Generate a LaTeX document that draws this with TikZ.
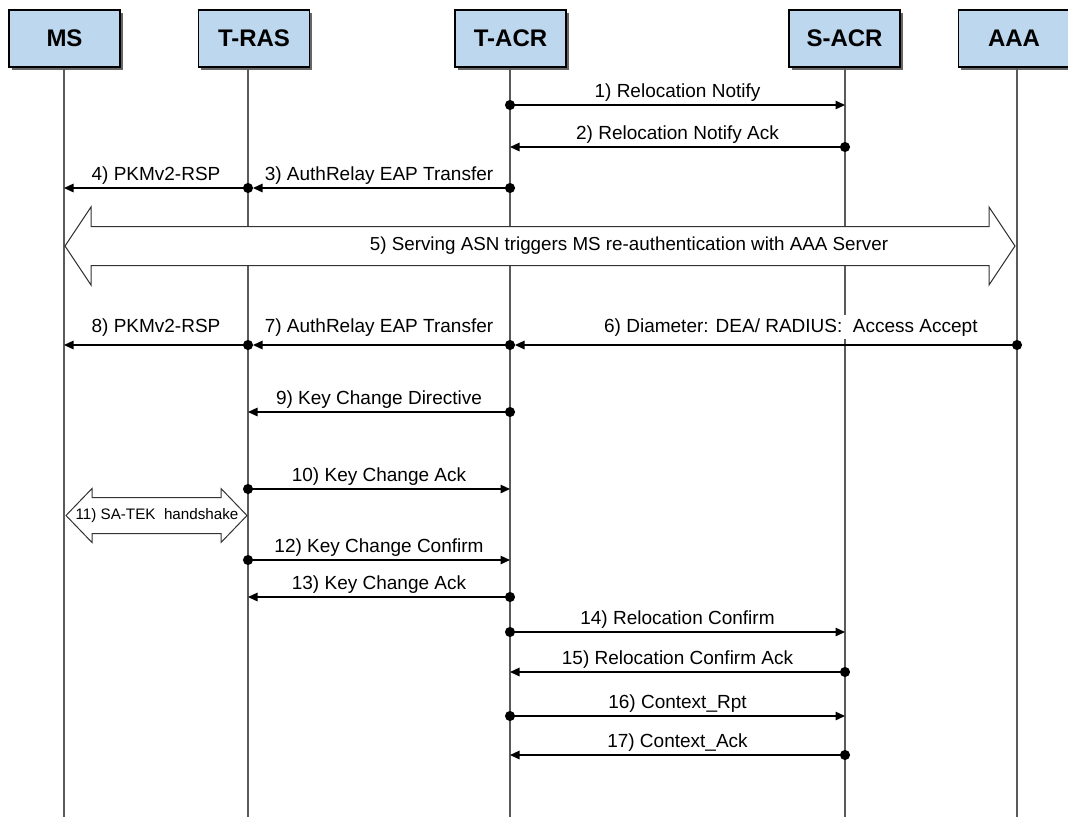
\documentclass[tikz,border=0pt]{standalone}
\usepackage{fontspec}
\setmainfont{Liberation Sans}
\usetikzlibrary{arrows.meta,shadows,calc}
\definecolor{boxblue}{HTML}{BDD7EE}
\definecolor{lifegray}{HTML}{5A5A5A}

\begin{document}
\begin{tikzpicture}[x=1pt,y=-1pt,
  actor/.style={draw=black, line width=1.2pt, fill=boxblue,
    minimum width=111pt, minimum height=57pt, inner sep=0pt,
    font=\fontsize{24}{28}\selectfont\bfseries,
    drop shadow={shadow xshift=2.5pt, shadow yshift=-2.5pt, fill=black!60, opacity=1}},
  lifeline/.style={draw=lifegray, line width=2.7pt},
  msg/.style={draw=black, line width=1.4pt,
    arrows={Circle[length=10pt]-Triangle[length=9.5pt,width=8.5pt]},
    shorten <=-5pt},
  lbl/.style={anchor=south, inner sep=0pt, yshift=3pt,
    font=\fontsize{19}{22}\selectfont, text height=14pt, text depth=4pt},
  bigarrow/.style={draw=black!80, line width=1pt, fill=white, line join=miter},
]
\useasboundingbox (0,0) rectangle (1068,817);

% lifeline positions and message rows
\coordinate (ms)   at (64,0);
\coordinate (tras) at (248,0);
\coordinate (tacr) at (510,0);
\coordinate (sacr) at (845,0);
\coordinate (aaa)  at (1017,0);
\coordinate (bot)  at (0,817);

\coordinate (r1)  at (0,105);
\coordinate (r2)  at (0,147);
\coordinate (r3)  at (0,188);
\coordinate (r5)  at (0,246);
\coordinate (r6)  at (0,345);
\coordinate (r9)  at (0,412);
\coordinate (r10) at (0,489);
\coordinate (r11) at (0,515.5);
\coordinate (r12) at (0,560);
\coordinate (r13) at (0,597);
\coordinate (r14) at (0,632);
\coordinate (r15) at (0,672);
\coordinate (r16) at (0,716);
\coordinate (r17) at (0,755);

% participants
\node[actor] (msbox)   at (64.5,38.5)  {MS};
\node[actor] (trasbox) at (254,38.5)   {T-RAS};
\node[actor] (tacrbox) at (510.5,38.5) {T-ACR};
\node[actor] (sacrbox) at (844.5,38.5) {S-ACR};
\node[actor] (aaabox)  at (1014,38.5)  {AAA};

% lifelines
\draw[lifeline] (ms |- msbox.south)     -- (ms |- bot);
\draw[lifeline] (tras |- trasbox.south) -- (tras |- bot);
\draw[lifeline] (tacr |- tacrbox.south) -- (tacr |- bot);
\draw[lifeline] (sacr |- sacrbox.south) -- (sacr |- bot);
\draw[lifeline] (aaa |- aaabox.south)   -- (aaa |- bot);

% 1) - 4)
\draw[msg] (tacr |- r1) -- node[lbl]{1) Relocation Notify} (sacr |- r1);
\draw[msg] (sacr |- r2) -- node[lbl]{2) Relocation Notify Ack} (tacr |- r2);
\draw[msg, shorten >=5pt] (tacr |- r3) -- node[lbl]{3) AuthRelay EAP Transfer} (tras |- r3);
\draw[msg] (tras |- r3) -- node[lbl]{4) PKMv2-RSP} (ms |- r3);

% 5) re-authentication block arrow
\coordinate (t5l) at ($(ms |- r5)+(1,0)$);
\coordinate (t5r) at ($(aaa |- r5)+(-2,0)$);
\draw[bigarrow] (t5l) -- ++(26,-39) -- ++(0,19.5) -- ($(t5r)+(-26,-19.5)$)
  -- ++(0,-19.5) -- (t5r) -- ++(-26,39) -- ++(0,-19.5)
  -- ($(t5l)+(26,19.5)$) -- ++(0,19.5) -- cycle;
\node[font=\fontsize{18.8}{22}\selectfont] (l5) at (629,246)
  {5) Serving ASN triggers MS re-authentication with AAA Server};

% 6) - 8)
\draw[msg, shorten >=5pt] (aaa |- r6) -- node[lbl, pos=0.446, fill=white, inner sep=3pt, yshift=2pt]
  {6) Diameter: DEA/ RADIUS:\ \ Access Accept} (tacr |- r6);
\draw[msg, shorten >=5pt] (tacr |- r6) -- node[lbl, yshift=5pt]{7) AuthRelay EAP Transfer} (tras |- r6);
\draw[msg] (tras |- r6) -- node[lbl, yshift=5pt]{8) PKMv2-RSP} (ms |- r6);

% 9) - 10)
\draw[msg] (tacr |- r9)  -- node[lbl]{9) Key Change Directive} (tras |- r9);
\draw[msg] (tras |- r10) -- node[lbl]{10) Key Change Ack} (tacr |- r10);

% 11) SA-TEK handshake block arrow
\coordinate (t11l) at ($(ms |- r11)+(2,0)$);
\coordinate (t11r) at ($(tras |- r11)+(-1,0)$);
\draw[bigarrow] (t11l) -- ++(26,-27) -- ++(0,9) -- ($(t11r)+(-26,-18)$)
  -- ++(0,-9) -- (t11r) -- ++(-26,27) -- ++(0,-9)
  -- ($(t11l)+(26,18)$) -- ++(0,9) -- cycle;
\node[font=\fontsize{15.2}{18}\selectfont] (l11) at (157,515.5) {11) SA-TEK\ \ handshake};

% 12) - 17)
\draw[msg] (tras |- r12) -- node[lbl]{12) Key Change Confirm} (tacr |- r12);
\draw[msg] (tacr |- r13) -- node[lbl]{13) Key Change Ack} (tras |- r13);
\draw[msg] (tacr |- r14) -- node[lbl]{14) Relocation Confirm} (sacr |- r14);
\draw[msg] (sacr |- r15) -- node[lbl]{15) Relocation Confirm Ack} (tacr |- r15);
\draw[msg] (tacr |- r16) -- node[lbl]{16) Context\_Rpt} (sacr |- r16);
\draw[msg] (sacr |- r17) -- node[lbl]{17) Context\_Ack} (tacr |- r17);
\end{tikzpicture}
\end{document}
